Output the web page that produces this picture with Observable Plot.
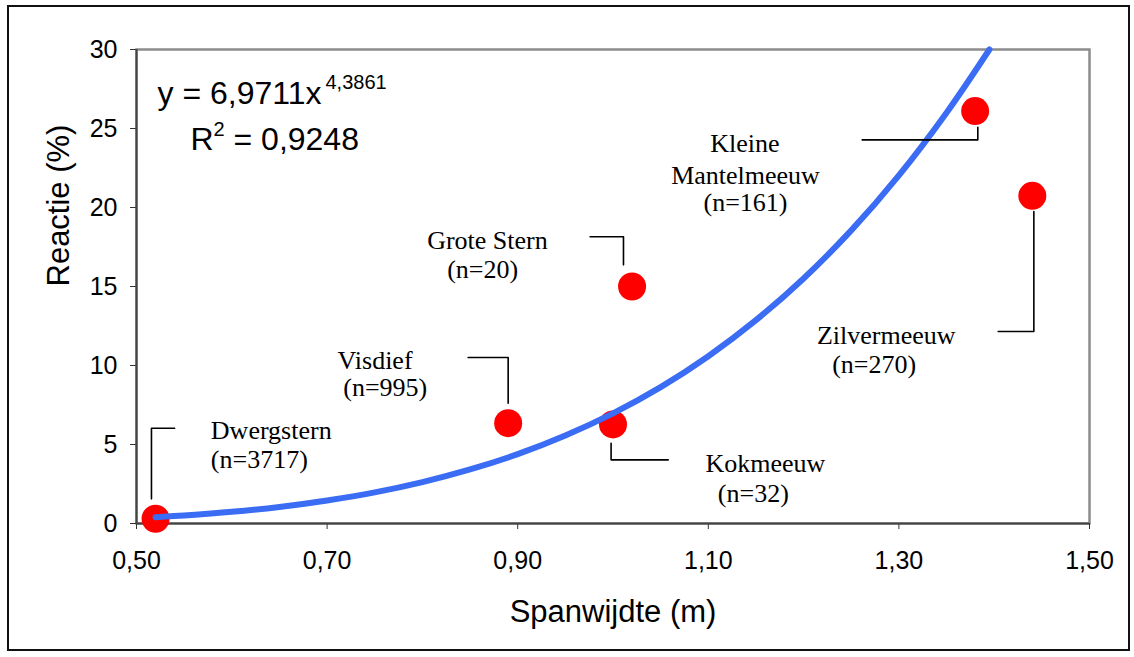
<!DOCTYPE html>
<html>
<head>
<meta charset="utf-8">
<script src="https://cdn.jsdelivr.net/npm/d3@7"></script>
<script src="https://cdn.jsdelivr.net/npm/@observablehq/plot@0.6"></script>
<style>
  html, body { margin: 0; padding: 0; background: #fff; }
  #wrap { position: relative; width: 1134px; height: 657px; }
  #frame { position: absolute; left: 7px; top: 5px; width: 1123px; height: 646px; border: 2px solid #111; pointer-events: none; box-sizing: border-box; }
</style>
</head>
<body>
<div id="wrap"><div id="frame"></div></div>
<script>
// Birds: wingspan (m) vs reaction (%)
const birdNames = ["Dwergstern", "Visdief", "Grote Stern", "Kokmeeuw", "Kleine Mantelmeeuw", "Zilvermeeuw"];
const birdSpan = [0.52, 0.89, 1.02, 1.00, 1.38, 1.44];
const birdReaction = [0.3, 6.35, 15.0, 6.27, 26.1, 20.74];

// Trend line (power fit shown in the chart)
const curveSpan = [0.52, 0.55, 0.60, 0.65, 0.70, 0.75, 0.80, 0.85, 0.90, 0.95, 1.00, 1.05, 1.10, 1.15, 1.20, 1.25, 1.30, 1.35, 1.395];
const curveReaction = [0.40, 0.51, 0.74, 1.05, 1.46, 1.97, 2.62, 3.42, 4.39, 5.57, 6.97, 8.63, 10.59, 12.87, 15.51, 18.55, 22.03, 26.00, 30.0];

// Label lines and their anchor points (data units)
const labelText = ["Dwergstern", "(n=3717)", "Visdief", "(n=995)", "Grote Stern", "(n=20)", "Kokmeeuw", "(n=32)", "Kleine", "Mantelmeeuw", "(n=161)", "Zilvermeeuw", "(n=270)"];
const labelX = [0.578, 0.578, 0.711, 0.717, 0.805, 0.826, 1.097, 1.110, 1.102, 1.061, 1.095, 1.214, 1.230];
const labelY = [5.36, 3.51, 9.79, 8.04, 17.39, 15.54, 3.25, 1.39, 23.5, 21.5, 19.81, 11.37, 9.53];

// Leader lines (data units)
const leaderId = [0, 0, 0, 1, 1, 1, 2, 2, 2, 3, 3, 3, 4, 4, 4, 5, 5, 5];
const leaderX = [0.5157, 0.5157, 0.540, 0.848, 0.890, 0.890, 0.976, 1.011, 1.011, 0.998, 0.998, 1.058, 1.2615, 1.3828, 1.3828, 1.4416, 1.4416, 1.4042];
const leaderY = [1.56, 6.03, 6.03, 10.51, 10.51, 7.61, 18.15, 18.15, 16.37, 5.08, 4.03, 4.03, 24.28, 24.28, 25.08, 19.75, 12.15, 12.15];

// Axes
const xTicks = [0.5, 0.7, 0.9, 1.1, 1.3, 1.5];
const yTicks = [0, 5, 10, 15, 20, 25, 30];
const xLabel = "Spanwijdte (m)";
const yLabel = "Reactie (%)";

// Equation
const eqMain = "y = 6,9711x";
const eqExp = "4,3861";
const r2Main = "R";
const r2Exp = "2";
const r2Value = "= 0,9248";

const birds = birdNames.map((n, i) => ({name: n, x: birdSpan[i], y: birdReaction[i]}));
const curve = curveSpan.map((x, i) => ({x, y: curveReaction[i]}));
const labels = labelText.map((t, i) => ({text: t, x: labelX[i], y: labelY[i]}));
const leaders = leaderId.map((id, i) => ({id, x: leaderX[i], y: leaderY[i]}));
const fmt = d => d.toFixed(2).replace(".", ",");

const sans = "'Liberation Sans', Arial, sans-serif";
const serif = "'Liberation Serif', 'Times New Roman', serif";

const chart = Plot.plot({
  width: 1134,
  height: 657,
  marginLeft: 136,
  marginRight: 45,
  marginTop: 49,
  marginBottom: 134,
  x: {domain: [0.5, 1.5]},
  y: {domain: [0, 30]},
  style: {fontFamily: sans, fontSize: "25px", color: "#000", background: "transparent", overflow: "visible"},
  marks: [
    Plot.frame({stroke: "#8c8c8c", strokeWidth: 2.5}),
    Plot.axisX({ticks: xTicks, tickFormat: fmt, tickSize: 6, tickPadding: 22, label: null, stroke: "#333", fontSize: 25}),
    Plot.axisY({ticks: yTicks, tickSize: 6, tickPadding: 13, label: null, stroke: "#333", fontSize: 25}),
    Plot.ruleX([0.5], {stroke: "#444", strokeWidth: 2}),
    Plot.ruleY([0], {stroke: "#444", strokeWidth: 2}),
    Plot.text([xLabel], {frameAnchor: "bottom", dy: 98, lineAnchor: "bottom", fontSize: 31, fontFamily: sans}),
    Plot.text([yLabel], {frameAnchor: "left", dx: -68, rotate: -90, lineAnchor: "bottom", fontSize: 31, fontFamily: sans}),
    Plot.dot(birds, {x: "x", y: "y", r: 14, fill: "#ff0000", stroke: "none"}),
    Plot.line(curve, {x: "x", y: "y", stroke: "#3a6cf4", strokeWidth: 6, curve: "catmull-rom"}),
    Plot.line(leaders, {x: "x", y: "y", z: "id", stroke: "#000", strokeWidth: 1.6}),
    Plot.text(labels, {x: "x", y: "y", text: "text", textAnchor: "start", lineAnchor: "bottom", fontFamily: serif, fontSize: 26}),
    Plot.text([eqMain], {frameAnchor: "top-left", dx: 21, dy: 54, textAnchor: "start", lineAnchor: "bottom", fontFamily: sans, fontSize: 32}),
    Plot.text([eqExp], {frameAnchor: "top-left", dx: 189, dy: 39, textAnchor: "start", lineAnchor: "bottom", fontFamily: sans, fontSize: 20}),
    Plot.text([r2Main], {frameAnchor: "top-left", dx: 54, dy: 100, textAnchor: "start", lineAnchor: "bottom", fontFamily: sans, fontSize: 32}),
    Plot.text([r2Exp], {frameAnchor: "top-left", dx: 77, dy: 86, textAnchor: "start", lineAnchor: "bottom", fontFamily: sans, fontSize: 20}),
    Plot.text([r2Value], {frameAnchor: "top-left", dx: 97, dy: 100, textAnchor: "start", lineAnchor: "bottom", fontFamily: sans, fontSize: 32})
  ]
});
chart.style.position = "absolute";
chart.style.left = "0";
chart.style.top = "0";
document.getElementById("wrap").prepend(chart);
</script>
</body>
</html>
